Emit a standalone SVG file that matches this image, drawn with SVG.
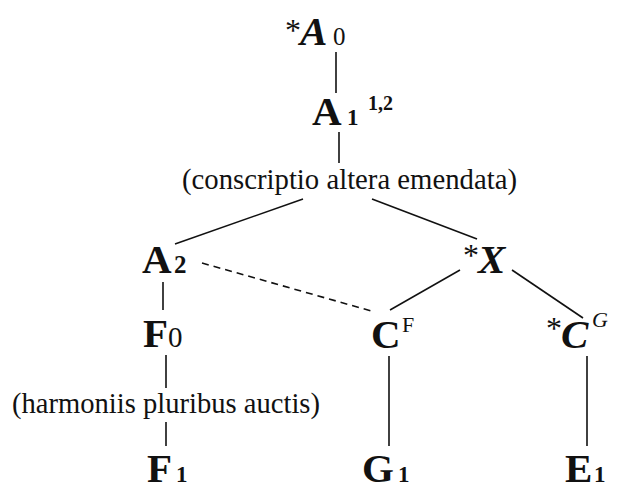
<svg xmlns="http://www.w3.org/2000/svg" width="617" height="491" viewBox="0 0 617 491">
<style>
text{fill:#111;font-family:"Liberation Serif","Times New Roman",serif}
.b{font-weight:bold;font-size:41px}
.d{font-weight:bold;font-size:23px}
.z{font-size:29px}
.s{font-style:italic;font-weight:bold;font-size:41px}
.ast{font-size:32px}
.sup{font-size:20px;font-weight:bold}
.note{font-size:29px}
.ln{stroke:#111;stroke-width:1.6;fill:none}
.dash{stroke-dasharray:7 5}
</style>
<rect width="617" height="491" fill="#fff"/>
<g id="connectors">
<line class="ln" x1="336" y1="52" x2="336" y2="93"/>
<line class="ln" x1="339" y1="132" x2="339" y2="163"/>
<line class="ln" x1="303" y1="199" x2="175" y2="244"/>
<line class="ln" x1="372" y1="199" x2="477" y2="239"/>
<line class="ln dash" x1="202" y1="263" x2="375" y2="312"/>
<line class="ln" x1="163" y1="282" x2="163" y2="310"/>
<line class="ln" x1="166" y1="355" x2="166" y2="388"/>
<line class="ln" x1="166" y1="422" x2="166" y2="446"/>
<line class="ln" x1="460" y1="270" x2="390" y2="310"/>
<line class="ln" x1="512" y1="270" x2="583" y2="318"/>
<line class="ln" x1="389" y1="356" x2="389" y2="446"/>
<line class="ln" x1="587" y1="356" x2="587" y2="446"/>
</g>
<g id="nodeA0">
<text class="ast" x="285" y="41">*</text>
<text class="s" x="300" y="45">A</text>
<text class="z" x="333" y="45" style="font-size:25px">0</text>
</g>
<g id="nodeA1">
<text class="b" x="312" y="125">A</text>
<text class="d" x="347" y="125">1</text>
<text class="sup" x="368" y="110">1,2</text>
</g>
<g id="note1">
<text class="note" x="182" y="189" textLength="335" lengthAdjust="spacingAndGlyphs">(conscriptio altera emendata)</text>
</g>
<g id="nodeA2">
<text class="b" x="142" y="273">A</text>
<text class="d" x="174" y="273" style="font-size:25px">2</text>
</g>
<g id="nodeX">
<text class="ast" x="463" y="266">*</text>
<text class="s" x="478" y="273">X</text>
</g>
<g id="nodeF0">
<text class="b" x="143" y="347">F</text>
<text class="z" x="168" y="347">0</text>
</g>
<g id="note2">
<text class="note" x="12" y="413" textLength="308" lengthAdjust="spacingAndGlyphs">(harmoniis pluribus auctis)</text>
</g>
<g id="nodeCF">
<text class="b" x="371" y="348">C</text>
<text x="402" y="332" style="font-size:22px">F</text>
</g>
<g id="nodeCG">
<text class="ast" x="546" y="339">*</text>
<text class="s" x="561" y="348">C</text>
<text x="592" y="327" style="font-size:22px;font-style:italic">G</text>
</g>
<g id="nodeF1">
<text class="b" x="147" y="482">F</text>
<text class="d" x="176" y="482">1</text>
</g>
<g id="nodeG1">
<text class="b" x="362" y="482">G</text>
<text class="d" x="398" y="482">1</text>
</g>
<g id="nodeE1">
<text class="b" x="565" y="482">E</text>
<text class="d" x="594" y="482">1</text>
</g>
</svg>
